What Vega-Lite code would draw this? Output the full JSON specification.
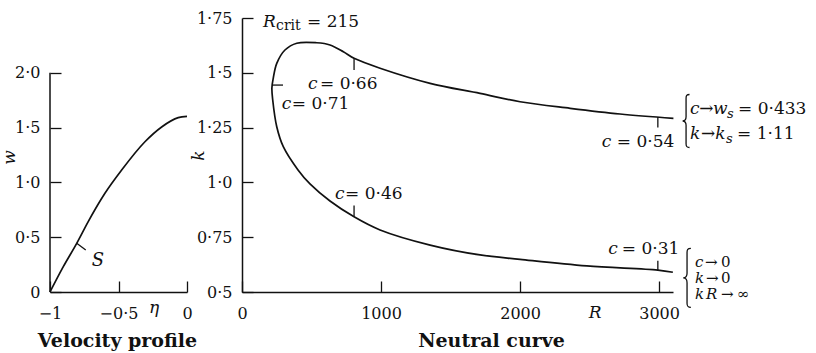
{
  "$schema": "https://vega.github.io/schema/vega-lite/v6.json",
  "background": "white",
  "padding": {"left": 0, "top": 10, "right": 0, "bottom": 6},
  "bounds": "flush",
  "spacing": 55,
  "config": {
    "view": {"stroke": null},
    "font": "DejaVu Serif",
    "axis": {
      "grid": false,
      "labelFont": "DejaVu Serif",
      "labelFontSize": 16,
      "labelColor": "#111",
      "labelOverlap": false,
      "labelFlush": false,
      "labelBound": false,
      "domainColor": "#111",
      "domainWidth": 1.5,
      "tickColor": "#111",
      "tickWidth": 1.3,
      "tickSize": -11,
      "labelPadding": 21,
      "titleFont": "DejaVu Serif",
      "titleColor": "#111"
    },
    "text": {"font": "DejaVu Serif", "color": "#111"}
  },
  "datasets": {
    "profile": [
      {"eta": -1, "w": 0},
      {"eta": -0.903, "w": 0.231},
      {"eta": -0.805, "w": 0.444},
      {"eta": -0.72, "w": 0.645},
      {"eta": -0.599, "w": 0.901},
      {"eta": -0.477, "w": 1.113},
      {"eta": -0.307, "w": 1.371},
      {"eta": -0.185, "w": 1.506},
      {"eta": -0.064, "w": 1.591},
      {"eta": 0, "w": 1.603}
    ],
    "curve": [
      {"i": 0, "R": 3099, "k": 0.590},
      {"i": 1, "R": 2991, "k": 0.600},
      {"i": 2, "R": 2480, "k": 0.619},
      {"i": 3, "R": 2000, "k": 0.649},
      {"i": 4, "R": 1712, "k": 0.669},
      {"i": 5, "R": 1353, "k": 0.714},
      {"i": 6, "R": 993, "k": 0.783},
      {"i": 7, "R": 806, "k": 0.843},
      {"i": 8, "R": 633, "k": 0.915},
      {"i": 9, "R": 489, "k": 0.993},
      {"i": 10, "R": 403, "k": 1.057},
      {"i": 11, "R": 297, "k": 1.163},
      {"i": 12, "R": 250, "k": 1.254},
      {"i": 13, "R": 221, "k": 1.376},
      {"i": 14, "R": 215, "k": 1.431},
      {"i": 15, "R": 225, "k": 1.476},
      {"i": 16, "R": 250, "k": 1.543},
      {"i": 17, "R": 309, "k": 1.604},
      {"i": 18, "R": 394, "k": 1.635},
      {"i": 19, "R": 537, "k": 1.637},
      {"i": 20, "R": 633, "k": 1.627},
      {"i": 21, "R": 729, "k": 1.596},
      {"i": 22, "R": 806, "k": 1.566},
      {"i": 23, "R": 993, "k": 1.521},
      {"i": 24, "R": 1353, "k": 1.452},
      {"i": 25, "R": 1712, "k": 1.406},
      {"i": 26, "R": 2000, "k": 1.368},
      {"i": 27, "R": 2360, "k": 1.338},
      {"i": 28, "R": 2719, "k": 1.312},
      {"i": 29, "R": 3103, "k": 1.292}
    ],
    "cticks": [
      {"c": "0.71", "R": 217, "k": 1.444, "R2": 295, "k2": 1.444},
      {"c": "0.66", "R": 806, "k": 1.566, "R2": 806, "k2": 1.513},
      {"c": "0.46", "R": 806, "k": 0.843, "R2": 806, "k2": 0.895},
      {"c": "0.54", "R": 2991, "k": 1.298, "R2": 2991, "k2": 1.250},
      {"c": "0.31", "R": 2991, "k": 0.600, "R2": 2991, "k2": 0.643}
    ],
    "labels": [
      {"R": 151, "k": 1.709, "t": "R", "s": "it"},
      {"R": 245, "k": 1.695, "t": "crit", "s": "sub"},
      {"R": 468, "k": 1.709, "t": "= 215", "s": "rm"},
      {"R": 475, "k": 1.426, "t": "c", "s": "it"},
      {"R": 561, "k": 1.426, "t": "= 0·66", "s": "rm"},
      {"R": 286, "k": 1.335, "t": "c", "s": "it"},
      {"R": 358, "k": 1.335, "t": "= 0·71", "s": "rm"},
      {"R": 669, "k": 0.924, "t": "c", "s": "it"},
      {"R": 741, "k": 0.924, "t": "= 0·46", "s": "rm"},
      {"R": 2588, "k": 1.161, "t": "c", "s": "it"},
      {"R": 2696, "k": 1.161, "t": "= 0·54", "s": "rm"},
      {"R": 2635, "k": 0.673, "t": "c", "s": "it"},
      {"R": 2732, "k": 0.673, "t": "= 0·31", "s": "rm"},
      {"R": 2540, "k": 0.381, "t": "R", "s": "itc"},
      {"R": 3223, "k": 1.312, "t": "c", "s": "it"},
      {"R": 3288, "k": 1.312, "t": "→", "s": "rm"},
      {"R": 3388, "k": 1.312, "t": "w", "s": "it"},
      {"R": 3489, "k": 1.294, "t": "s", "s": "subit"},
      {"R": 3568, "k": 1.312, "t": "= 0·433", "s": "rm"},
      {"R": 3223, "k": 1.198, "t": "k", "s": "it"},
      {"R": 3302, "k": 1.198, "t": "→", "s": "rm"},
      {"R": 3403, "k": 1.198, "t": "k", "s": "it"},
      {"R": 3482, "k": 1.180, "t": "s", "s": "subit"},
      {"R": 3561, "k": 1.198, "t": "= 1·11", "s": "rm"},
      {"R": 3259, "k": 0.616, "t": "c", "s": "itb"},
      {"R": 3331, "k": 0.616, "t": "→", "s": "rmb"},
      {"R": 3446, "k": 0.616, "t": "0", "s": "rmb"},
      {"R": 3259, "k": 0.543, "t": "k", "s": "itb"},
      {"R": 3338, "k": 0.543, "t": "→", "s": "rmb"},
      {"R": 3446, "k": 0.543, "t": "0", "s": "rmb"},
      {"R": 3259, "k": 0.470, "t": "k", "s": "itb"},
      {"R": 3338, "k": 0.470, "t": "R", "s": "itb"},
      {"R": 3446, "k": 0.470, "t": "→", "s": "rmb"},
      {"R": 3561, "k": 0.470, "t": "∞", "s": "rmb"}
    ],
    "braces": [
      {"b": "upper", "R": 3194, "k": 1.280},
      {"b": "lower", "R": 3201, "k": 0.564}
    ]
  },
  "hconcat": [
    {
      "width": 137,
      "height": 274,
      "layer": [
        {
          "data": {"name": "profile"},
          "mark": {"type": "line", "interpolate": "monotone", "color": "#111", "strokeWidth": 1.7},
          "encoding": {
            "x": {
              "field": "eta", "type": "quantitative",
              "scale": {"domain": [-1, 0], "nice": false, "zero": false},
              "axis": {
                "values": [-1, -0.5, 0],
                "labelExpr": "datum.value == -1 ? '−1' : datum.value == -0.5 ? '−0·5' : '0'",
                "labelBaseline": "alphabetic",
                "labelPadding": 37,
                "title": "Velocity profile",
                "titleFontWeight": "bold",
                "titleFontSize": 19,
                "titleX": 67,
                "titleY": 54,
                "titleBaseline": "alphabetic"
              }
            },
            "y": {
              "field": "w", "type": "quantitative",
              "scale": {"domain": [0, 2.5], "nice": false},
              "axis": {
                "values": [0, 0.5, 1, 1.5, 2],
                "labelExpr": "datum.value == 0 ? '0' : replace(format(datum.value, '.1f'), '.', '·')",
                "domain": false,
                "title": "w",
                "titleFontStyle": "italic",
                "titleFontWeight": "normal",
                "titleFontSize": 17,
                "titleX": -41,
                "titleY": 139,
                "titleBaseline": "middle"
              }
            }
          }
        },
        {
          "data": {"values": [{"eta": -1, "w": 0, "w2": 2}]},
          "mark": {"type": "rule", "color": "#111", "strokeWidth": 1.5},
          "encoding": {
            "x": {"field": "eta", "type": "quantitative"},
            "y": {"field": "w", "type": "quantitative"},
            "y2": {"field": "w2"}
          }
        },
        {
          "data": {"values": [{"eta": -0.805, "w": 0.444, "eta2": -0.739, "w2": 0.383}]},
          "mark": {"type": "rule", "color": "#111", "strokeWidth": 1.3},
          "encoding": {
            "x": {"field": "eta", "type": "quantitative"},
            "y": {"field": "w", "type": "quantitative"},
            "x2": {"field": "eta2"},
            "y2": {"field": "w2"}
          }
        },
        {
          "data": {"values": [{"eta": -0.696, "w": 0.237, "t": "S"}]},
          "mark": {"type": "text", "align": "left", "baseline": "alphabetic", "fontSize": 18, "fontStyle": "italic"},
          "encoding": {
            "x": {"field": "eta", "type": "quantitative"},
            "y": {"field": "w", "type": "quantitative"},
            "text": {"field": "t"}
          }
        },
        {
          "data": {"values": [{"eta": -0.241, "w": -0.19, "t": "η"}]},
          "mark": {"type": "text", "align": "center", "baseline": "alphabetic", "fontSize": 17, "fontStyle": "italic"},
          "encoding": {
            "x": {"field": "eta", "type": "quantitative"},
            "y": {"field": "w", "type": "quantitative"},
            "text": {"field": "t"}
          }
        }
      ]
    },
    {
      "width": 431,
      "height": 274,
      "layer": [
        {
          "data": {"name": "curve"},
          "mark": {"type": "line", "interpolate": "catmull-rom", "color": "#111", "strokeWidth": 1.7},
          "encoding": {
            "x": {
              "field": "R", "type": "quantitative",
              "scale": {"domain": [0, 3100], "nice": false},
              "axis": {
                "values": [0, 1000, 2000, 3000],
                "format": "d",
                "labelBaseline": "alphabetic",
                "labelPadding": 37,
                "title": "Neutral curve",
                "titleFontWeight": "bold",
                "titleFontSize": 19,
                "titleX": 249,
                "titleY": 54,
                "titleBaseline": "alphabetic"
              }
            },
            "y": {
              "field": "k", "type": "quantitative",
              "scale": {"domain": [0.5, 1.75], "nice": false, "zero": false},
              "axis": {
                "values": [0.5, 0.75, 1, 1.25, 1.5, 1.75],
                "labelExpr": "datum.value == 1 ? '1·0' : replace(format(datum.value, '.2~f'), '.', '·')",
                "title": "k",
                "titleFontStyle": "italic",
                "titleFontWeight": "normal",
                "titleFontSize": 17,
                "titleX": -44,
                "titleY": 137,
                "titleBaseline": "middle"
              }
            },
            "order": {"field": "i", "type": "quantitative"}
          }
        },
        {
          "data": {"name": "cticks"},
          "mark": {"type": "rule", "color": "#111", "strokeWidth": 1.3},
          "encoding": {
            "x": {"field": "R", "type": "quantitative"},
            "y": {"field": "k", "type": "quantitative"},
            "x2": {"field": "R2"},
            "y2": {"field": "k2"}
          }
        },
        {
          "data": {"name": "labels"},
          "transform": [{"filter": "datum.s == 'it'"}],
          "mark": {"type": "text", "align": "left", "baseline": "alphabetic", "fontSize": 17, "fontStyle": "italic"},
          "encoding": {
            "x": {"field": "R", "type": "quantitative"},
            "y": {"field": "k", "type": "quantitative"},
            "text": {"field": "t"}
          }
        },
        {
          "data": {"name": "labels"},
          "transform": [{"filter": "datum.s == 'itb'"}],
          "mark": {"type": "text", "align": "left", "baseline": "alphabetic", "fontSize": 15, "fontStyle": "italic"},
          "encoding": {
            "x": {"field": "R", "type": "quantitative"},
            "y": {"field": "k", "type": "quantitative"},
            "text": {"field": "t"}
          }
        },
        {
          "data": {"name": "labels"},
          "transform": [{"filter": "datum.s == 'itc'"}],
          "mark": {"type": "text", "align": "center", "baseline": "alphabetic", "fontSize": 17, "fontStyle": "italic"},
          "encoding": {
            "x": {"field": "R", "type": "quantitative"},
            "y": {"field": "k", "type": "quantitative"},
            "text": {"field": "t"}
          }
        },
        {
          "data": {"name": "labels"},
          "transform": [{"filter": "datum.s == 'rm'"}],
          "mark": {"type": "text", "align": "left", "baseline": "alphabetic", "fontSize": 17},
          "encoding": {
            "x": {"field": "R", "type": "quantitative"},
            "y": {"field": "k", "type": "quantitative"},
            "text": {"field": "t"}
          }
        },
        {
          "data": {"name": "labels"},
          "transform": [{"filter": "datum.s == 'rmb'"}],
          "mark": {"type": "text", "align": "left", "baseline": "alphabetic", "fontSize": 15},
          "encoding": {
            "x": {"field": "R", "type": "quantitative"},
            "y": {"field": "k", "type": "quantitative"},
            "text": {"field": "t"}
          }
        },
        {
          "data": {"name": "labels"},
          "transform": [{"filter": "datum.s == 'sub'"}],
          "mark": {"type": "text", "align": "left", "baseline": "alphabetic", "fontSize": 14},
          "encoding": {
            "x": {"field": "R", "type": "quantitative"},
            "y": {"field": "k", "type": "quantitative"},
            "text": {"field": "t"}
          }
        },
        {
          "data": {"name": "labels"},
          "transform": [{"filter": "datum.s == 'subit'"}],
          "mark": {"type": "text", "align": "left", "baseline": "alphabetic", "fontSize": 13, "fontStyle": "italic"},
          "encoding": {
            "x": {"field": "R", "type": "quantitative"},
            "y": {"field": "k", "type": "quantitative"},
            "text": {"field": "t"}
          }
        },
        {
          "data": {"name": "braces"},
          "transform": [{"filter": "datum.b == 'upper'"}],
          "mark": {"type": "point", "filled": false, "stroke": "#111", "strokeWidth": 1.3, "opacity": 1, "size": 2809,
                   "shape": "M0.13,-1 C0.02,-1 0,-0.96 0,-0.86 L0,-0.16 C0,-0.06 -0.04,0 -0.13,0 C-0.04,0 0,0.06 0,0.16 L0,0.86 C0,0.96 0.02,1 0.13,1"},
          "encoding": {
            "x": {"field": "R", "type": "quantitative"},
            "y": {"field": "k", "type": "quantitative"}
          }
        },
        {
          "data": {"name": "braces"},
          "transform": [{"filter": "datum.b == 'lower'"}],
          "mark": {"type": "point", "filled": false, "stroke": "#111", "strokeWidth": 1.3, "opacity": 1, "size": 3481,
                   "shape": "M0.13,-1 C0.02,-1 0,-0.96 0,-0.86 L0,-0.16 C0,-0.06 -0.04,0 -0.13,0 C-0.04,0 0,0.06 0,0.16 L0,0.86 C0,0.96 0.02,1 0.13,1"},
          "encoding": {
            "x": {"field": "R", "type": "quantitative"},
            "y": {"field": "k", "type": "quantitative"}
          }
        }
      ]
    }
  ]
}
